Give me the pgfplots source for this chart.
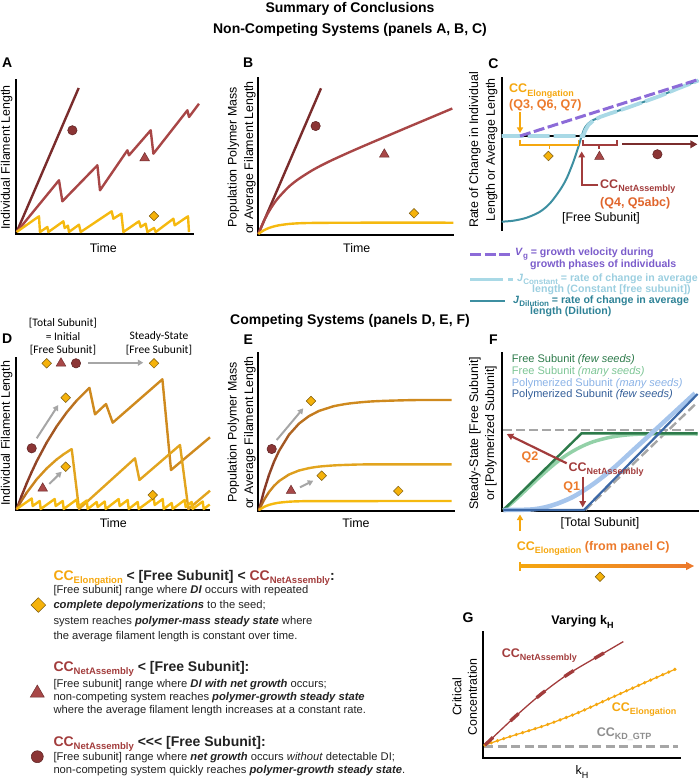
\documentclass[border=0pt]{standalone}
\usepackage{fontspec}
\setmainfont{Liberation Sans}
\newfontfamily\carl{Carlito}
\usepackage{pgfplots}
\pgfplotsset{compat=1.18}
\usetikzlibrary{arrows.meta}
\definecolor{cdark}{HTML}{7A2C2C}
\definecolor{cred}{HTML}{A84646}
\definecolor{cyel}{HTML}{F5B90F}
\definecolor{ccel}{HTML}{F5A70F}
\definecolor{cnet}{HTML}{A23C3C}
\definecolor{qor}{HTML}{EC7A2C}
\definecolor{qred}{HTML}{E0652C}
\definecolor{cpur}{HTML}{8C6BD8}
\definecolor{tpur}{HTML}{7B5CCB}
\definecolor{clb}{HTML}{A9D9E6}
\definecolor{tlb}{HTML}{9CCFE0}
\definecolor{cteal}{HTML}{3D8FA1}
\definecolor{tteal}{HTML}{2F8397}
\definecolor{fdg}{HTML}{2D7A4A}
\definecolor{flg}{HTML}{93D1A8}
\definecolor{tlg}{HTML}{7CC594}
\definecolor{flb}{HTML}{A6C5EC}
\definecolor{tlbl}{HTML}{8AB2E6}
\definecolor{fdb}{HTML}{3C68A6}
\definecolor{tdb}{HTML}{335E99}
\definecolor{cgray}{HTML}{A6A6A6}
\definecolor{circf}{HTML}{8B3535}
\definecolor{circd}{HTML}{5A2020}
\definecolor{trif}{HTML}{A84848}
\definecolor{trid}{HTML}{6E2C2C}
\definecolor{diaf}{HTML}{F5B20A}
\definecolor{diad}{HTML}{7A5A10}
\definecolor{dorange}{HTML}{CF8A1E}
\definecolor{dmid}{HTML}{E2A41E}
\definecolor{txt}{HTML}{222222}
\newcommand\fsz[1]{\fontsize{#1}{#1}\selectfont}
\newcommand\CC[2][9]{CC\raisebox{-0.26em}{\fsz{#1}#2}}
\newcommand\bi[1]{\textbf{\textit{#1}}}
\pgfplotsset{
  panel/.style={scale only axis, axis lines=left, axis line style={line width=2.2pt,-,black,line cap=rect}, ticks=none, clip=false, anchor=south west},
  mc/.style={only marks, mark=*, mark size=4.7pt, mark options={fill=circf, draw=circd, line width=0.5pt}},
  mt/.style={only marks, mark=triangle*, mark size=5.5pt, mark options={fill=trif, draw=trid, line width=0.5pt}},
  md/.style={only marks, mark=square*, mark size=3.4pt, mark options={rotate=45, fill=diaf, draw=diad, line width=0.5pt}},
  dl/.style={line width=2.4pt, line join=round},
  garr/.style={cgray, line width=2pt, -{Triangle[length=5.5pt,width=6pt]}},
  dcmap/.style={colormap={dcm}{rgb255=(125,45,40) rgb255=(205,135,30) rgb255=(228,168,30) rgb255=(245,185,16)}, point meta min=0, point meta max=3},
}
\begin{document}
\begin{tikzpicture}
\useasboundingbox (0pt,0pt) rectangle (700pt,-781pt);

% ---------- panel A ----------
\begin{axis}[panel, at={(16pt,-234.3pt)}, width=177pt, height=154.3pt, xmin=-0.67, xmax=176.3, ymin=-2.3, ymax=152]
\addplot[cdark, dl] coordinates {(0,0) (62,144)};
\addplot[cred, dl] coordinates {(0,0) (42.3,51.7) (45.7,30.7) (80.7,66.7) (83.3,41.7) (110.7,81.7) (112.3,76.7) (134,101.7) (136.7,78.3) (170.7,121.7) (172.3,115) (182.3,128.3)};
\addplot[cyel, dl] coordinates {(0,0) (22.3,15.7) (23.3,0) (30.7,5) (31.7,0) (46.7,10.7) (48,4) (51.3,6.3) (52.3,0) (62.3,7.3) (64,0) (95,20.7) (96.7,13.3) (104.7,18.3) (106.7,0) (122.3,10.7) (124,5) (129,8.3) (130.7,0) (137.3,4) (139,0) (156.7,13.3) (158,6.7) (171.3,15.7) (172.3,0)};
\addplot[mc] coordinates {(55.7,101.7)};
\addplot[mt] coordinates {(128,74)};
\addplot[md] coordinates {(137.3,16)};
\end{axis}

% ---------- panel B ----------
\begin{axis}[panel, at={(257.7pt,-234.7pt)}, width=195.6pt, height=157pt, xmin=-0.63, xmax=195, ymin=-0.7, ymax=156.3]
\addplot[cdark, dl] coordinates {(0,0) (62.7,145.7)};
\addplot[cred, dl, smooth] coordinates {(0,0) (5,11.8) (10,21.5) (15,29.5) (20,36.2) (30,46.8) (40,54.8) (55,64.3) (70,72.1) (90,81.3) (110,90) (130,98.5) (150,107) (170,115.4) (194,125.5)};
\addplot[cyel, dl, smooth] coordinates {(0,0) (5,3.4) (10,5.8) (15,7.4) (20,8.6) (30,10) (40,10.7) (50,11) (70,11.2) (100,11.3) (195,11.3)};
\addplot[mc] coordinates {(57.3,108)};
\addplot[mt] coordinates {(126,79.7)};
\addplot[md] coordinates {(155.7,20.7)};
\end{axis}

% ---------- panel C ----------
\begin{axis}[panel, axis y line=left, axis x line=none, y axis line style={-}, every outer y axis line/.append style={-}, at={(501.7pt,-230pt)}, width=196.7pt, height=152.3pt, xmin=0, xmax=196.7, ymin=-94, ymax=58.3]
\draw[black, line width=2.2pt] (0,0) -- (196.7,0);
\addplot[cteal, line width=2pt, smooth] coordinates {(0,-85.7) (11.7,-84.7) (25,-81.7) (38.3,-75.7) (48.3,-67.3) (58.3,-54) (65,-42.3) (71.7,-25.7) (76.7,-10.7) (80,0) (83.3,8.5) (88.3,14) (95,17.5) (108.3,22.5) (125,28) (141.7,34) (158.3,40) (175,47) (196.7,55.5)};
\addplot[clb, line width=3.8pt, dash pattern=on 22pt off 4pt] coordinates {(0,0) (81.7,0) (83.3,5) (86.7,11) (91.7,15.5) (98.3,19) (108.3,22.5) (125,28) (141.7,34) (158.3,40) (175,47) (196.7,55.5)};
\addplot[cpur, line width=3pt, dash pattern=on 11pt off 3.5pt] coordinates {(18.3,0) (196.7,56.5)};
\draw[ccel, line width=1.8pt] (18.3,-4.5) -- (18.3,-9) -- (76.7,-9) -- (76.7,-4.5);
\draw[ccel, line width=1.8pt] (47.7,-9) -- (47.7,-13);
\draw[cnet, line width=1.8pt] (81,-4.5) -- (81,-9) -- (115,-9) -- (115,-4.5);
\draw[cnet, line width=1.8pt] (97.5,-9) -- (97.5,-13);
\addplot[cdark, line width=2.4pt, -{Triangle[length=7pt,width=7.5pt]}] coordinates {(120.7,-8.3) (195.7,-8.3)};
\addplot[ccel, line width=2pt, -{Triangle[length=5.5pt,width=6pt]}] coordinates {(18.3,23.7) (18.3,3)};
\addplot[cnet, line width=2pt, -{Triangle[length=6pt,width=6.5pt]}] coordinates {(96.7,-49) (80,-49) (80,-15.5)};
\addplot[md] coordinates {(46.7,-20)};
\addplot[mt] coordinates {(97.7,-20.7)};
\addplot[mc] coordinates {(155.7,-18.3)};
\end{axis}

% ---------- panel D ----------
\begin{axis}[panel, dcmap, at={(15.7pt,-510pt)}, width=193.6pt, height=151.7pt, xmin=-1, xmax=192.6, ymin=-1, ymax=150.7]
\addplot[mesh, point meta=explicit, line width=2.4pt, line cap=round] coordinates {(0,0) [0] (5,13.3) [0.07] (10,25.7) [0.14] (15,37.1) [0.2] (20,47.7) [0.27] (30,66.5) [0.41] (40,82.7) [0.55] (50,96.6) [0.69] (60,108.5) [0.83] (72.7,121.2) [1]};
\addplot[dorange, dl] coordinates {(72.7,121.2) (78.3,94.7) (89.3,105) (96,86.3) (145.7,129.7) (154.3,39) (193.3,71.7)};
\addplot[mesh, point meta=explicit, line width=2.4pt, line cap=round] coordinates {(0,0) [0.5] (5,8.6) [0.65] (10,16.3) [0.8] (20,29.7) [1.1] (30,40.6) [1.4] (40,49.6) [1.65] (47,54.8) [1.85] (55,60) [2]};
\addplot[dmid, dl] coordinates {(55,60) (62.3,0) (118.3,50.7) (122.7,29) (163.3,64) (171.7,0) (193.3,18.3)};
\addplot[cyel, dl] coordinates {(0,0) (15,10.5) (16,3) (23,8) (24,0) (38,10) (39,3) (46,8) (47,0) (60,9.5) (61,2) (70,8.5) (71,0) (80,7) (81,2) (88,7.5) (89,0) (102,10) (103,3) (111,9) (112,0) (121,7) (122,0) (137,11) (138,4) (146,10) (147,0) (155,6) (156,0) (168,9) (169,2) (175,7) (176,0) (186,7.5) (187,0) (193,4.5)};
\addplot[garr] coordinates {(20,70.7) (41.6,104)};
\addplot[garr] coordinates {(32.6,25) (45,37.3)};
\addplot[garr] coordinates {(71.6,146.3) (126.6,146.3)};
\addplot[mc] coordinates {(15,60.7) (59.3,145.7)};
\addplot[mt] coordinates {(26,20.7) (44.3,145.7)};
\addplot[md] coordinates {(49,111.3) (49,42.3) (136,14) (30,145.7) (137.3,145.7)};
\end{axis}

% ---------- panel E ----------
\begin{axis}[panel, dcmap, at={(258.3pt,-511pt)}, width=196pt, height=158.3pt, xmin=-0.7, xmax=195.3, ymin=-1, ymax=157.3]
\addplot[mesh, point meta=explicit, line width=2.4pt, line cap=round] coordinates {(0,0) [0] (5,19.2) [0.1] (10,35.1) [0.2] (15,48.2) [0.3] (20,59) [0.4] (30,75.3) [0.55] (40,86.4) [0.7] (50,93.9) [0.82] (60,99.1) [0.92] (75,103.9) [1]};
\addplot[dorange, dl, smooth] coordinates {(75,103.9) (90,106.5) (110,108.4) (130,109.3) (160,110) (192.7,110)};
\addplot[mesh, point meta=explicit, line width=2.4pt, line cap=round] coordinates {(0,0) [0.5] (5,10.1) [0.7] (10,18) [0.9] (15,24.1) [1.1] (20,28.9) [1.3] (30,35.5) [1.6] (40,39.5) [1.8] (50,41.9) [2]};
\addplot[dmid, dl, smooth] coordinates {(50,41.9) (60,43.4) (75,44.6) (90,45.2) (110,45.6) (192.7,45.7)};
\addplot[cyel, dl, smooth] coordinates {(0,0) (5,3.1) (10,5.1) (15,6.4) (20,7.3) (30,8.3) (40,8.7) (60,8.9) (192.7,9)};
\addplot[garr] coordinates {(17.7,70) (44.3,101.7)};
\addplot[garr] coordinates {(41,22.7) (54.3,29.3)};
\addplot[mc] coordinates {(12.7,61)};
\addplot[mt] coordinates {(32,19.3)};
\addplot[md] coordinates {(52,109) (62.7,34.3) (139.3,19)};
\end{axis}

% ---------- panel F ----------
\begin{axis}[panel, at={(502.3pt,-511pt)}, width=195.4pt, height=158.3pt, xmin=-1, xmax=194.4, ymin=-1, ymax=157.3]
\addplot[cgray, line width=2.4pt, dash pattern=on 9pt off 4pt] coordinates {(0,80) (194.3,80)};
\addplot[cgray, line width=2.4pt, dash pattern=on 9pt off 4pt] coordinates {(82,0) (194.3,108)};
\addplot[flg, line width=3.5pt, smooth] coordinates {(0,0) (10,8.3) (23.3,20.7) (36.7,33.3) (50,45) (63.3,55) (76.7,62.7) (90,68.3) (106.7,72.7) (123.3,75) (143.3,76) (194.3,76)};
\addplot[fdg, line width=2.4pt] coordinates {(0,0) (78.3,76.7) (194.3,76.7)};
\addplot[flb, line width=4.5pt, smooth] coordinates {(0,0) (30,0.7) (50,5) (70,13.3) (90,26) (110,41.7) (130,60) (150,78.3) (170,96.7) (191.7,116.7)};
\addplot[fdb, line width=2.2pt] coordinates {(0,0) (80.7,0) (194.3,116)};
\addplot[cnet, line width=2.2pt, -{Triangle[length=6.5pt,width=6.5pt]}] coordinates {(63.4,46.7) (3.4,76)};
\addplot[cnet, line width=2.2pt, -{Triangle[length=6.5pt,width=6.5pt]}] coordinates {(79.4,33.3) (79.4,2.5)};
\end{axis}

% ---------- panel G ----------
\begin{axis}[panel, at={(483.3pt,-758.3pt)}, width=196.7pt, height=126.6pt, xmin=-0.7, xmax=196, ymin=-1, ymax=125.6]
\addplot[cgray, line width=2.4pt, dash pattern=on 9pt off 4.5pt] coordinates {(0,10.7) (194.3,10.7)};
\addplot[ccel, line width=1.2pt, smooth] coordinates {(1,12.3) (26,20.7) (59.3,31.3) (92.7,44) (126,59) (159.3,74) (191,88)};
\addplot[ccel, line width=3.6pt, line cap=round, dash pattern=on 0pt off 6.6pt, smooth] coordinates {(1,12.3) (26,20.7) (59.3,31.3) (92.7,44) (126,59) (159.3,74) (191,88)};
\addplot[cnet, line width=1.3pt, smooth] coordinates {(1,12.3) (29.3,39) (56,62.3) (84.3,83.3) (119.3,104) (139.3,115.7)};
\addplot[cnet, line width=3.4pt, dash pattern=on 11pt off 24pt, smooth] coordinates {(1,12.3) (29.3,39) (56,62.3) (84.3,83.3) (119.3,104) (139.3,115.7)};
\end{axis}

% ---------- overlay axis for symbols outside the panels ----------
\begin{axis}[at={(0pt,-781pt)}, anchor=south west, scale only axis, width=700pt, height=781pt, xmin=0, xmax=700, ymin=0, ymax=781, y dir=reverse, hide axis, clip=false]
\addplot[only marks, mark=square*, mark size=5.2pt, mark options={rotate=45, fill=diaf, draw=diad, line width=0.5pt}] coordinates {(38.3,605)};
\addplot[only marks, mark=triangle*, mark size=8pt, mark options={fill=trif, draw=trid, line width=0.5pt}] coordinates {(37.3,693)};
\addplot[only marks, mark=*, mark size=6pt, mark options={fill=circf, draw=circd, line width=0.5pt}] coordinates {(37.3,756.7)};
\addplot[md] coordinates {(600,576.7)};
\end{axis}

\begin{scope}[x=1pt,y=-1pt]
% ---------- titles ----------
\node[font=\bfseries\fsz{14}] at (350,9) {Summary of Conclusions};
\node[font=\bfseries\fsz{14}] at (350,29.5) {Non-Competing Systems (panels A, B, C)};
\node[font=\bfseries\fsz{14}] at (350,321) {Competing Systems (panels D, E, F)};
\foreach \l/\x/\y in {A/7.3/62.3,B/248.3/62.3,C/493.3/63.3,D/7.3/339,E/248.3/340,F/493.3/340,G/468/618}
  \node[font=\bfseries\fsz{14}] at (\x,\y) {\l};

\node[font=\fsz{12.4}] at (103.3,248.3) {Time};
\node[font=\fsz{12.4}, rotate=90] at (6.7,157.5) {Individual Filament Length};
\node[font=\fsz{12.4}] at (356.7,248.3) {Time};
\node[font=\fsz{12.4}, rotate=90] at (233.3,157.5) {Population Polymer Mass};
\node[font=\fsz{12.4}, rotate=90] at (250,157.5) {or Average Filament Length};

\node[anchor=base west, inner sep=0, font=\bfseries\fsz{12.5}, text=ccel] at (509,93) {\CC{Elongation}};
\node[anchor=base west, inner sep=0, font=\bfseries\fsz{12.5}, text=qor] at (509,108.5) {(Q3, Q6, Q7)};
\node[anchor=base west, inner sep=0, font=\bfseries\fsz{12.5}, text=cnet] at (600,188.3) {\CC{NetAssembly}};
\node[anchor=base west, inner sep=0, font=\bfseries\fsz{12.5}, text=qred] at (600,206) {(Q4, Q5abc)};
\node[font=\fsz{12.4}] at (601,218.3) {[Free Subunit]};
\node[font=\fsz{12.4}, rotate=90] at (475,150) {Rate of Change in Individual};
\node[font=\fsz{12.4}, rotate=90] at (491.7,150) {Length or Average Length};

\draw[cpur, line width=3pt, dash pattern=on 11pt off 3.5pt] (470,254) -- (510,254);
\draw[clb, line width=3pt] (470,279) -- (503,279) (508,279) -- (513,279);
\draw[cteal, line width=2pt] (470,301) -- (505,301);
\node[anchor=west, inner sep=0, font=\bfseries\fsz{10.6}, text=tpur] at (515,254) {\textit{V}\raisebox{-0.25em}{\fsz{8}g} = growth velocity during};
\node[anchor=west, inner sep=0, font=\bfseries\fsz{10.6}, text=tpur] at (530,265) {growth phases of individuals};
\node[anchor=west, inner sep=0, font=\bfseries\fsz{10.6}, text=tlb] at (517,279) {\textit{J}\raisebox{-0.25em}{\fsz{8}Constant} = rate of change in average};
\node[anchor=west, inner sep=0, font=\bfseries\fsz{10.6}, text=tlb] at (532,290) {length (Constant [free subunit])};
\node[anchor=west, inner sep=0, font=\bfseries\fsz{10.6}, text=tteal] at (513,301) {\textit{J}\raisebox{-0.25em}{\fsz{8}Dilution} = rate of change in average};
\node[anchor=west, inner sep=0, font=\bfseries\fsz{10.6}, text=tteal] at (530,312) {length (Dilution)};

\node[font=\fsz{12.4}] at (113.3,523.3) {Time};
\node[font=\fsz{12.4}, rotate=90] at (6.7,433.3) {Individual Filament Length};
\node[font=\carl\fsz{11.5}] at (63,323) {[Total Subunit]};
\node[font=\carl\fsz{11.5}] at (63,336.5) {= Initial};
\node[font=\carl\fsz{11.5}] at (63,350.5) {[Free Subunit]};
\node[font=\carl\fsz{11.5}] at (159,336.5) {Steady-State};
\node[font=\carl\fsz{11.5}] at (159,350.5) {[Free Subunit]};

\node[font=\fsz{12.4}] at (356,523.3) {Time};
\node[font=\fsz{12.4}, rotate=90] at (233.3,432.5) {Population Polymer Mass};
\node[font=\fsz{12.4}, rotate=90] at (250,432.5) {or Average Filament Length};

\node[font=\fsz{12.4}] at (600,523.3) {[Total Subunit]};
\node[font=\fsz{12.4}, rotate=90] at (475,433.3) {Steady-State [Free Subunit]};
\node[font=\fsz{12.4}, rotate=90] at (491,433.3) {or [Polymerized Subunit]};
\node[anchor=base west, inner sep=0, font=\fsz{11}, text=fdg] at (511.7,362.8) {Free Subunit \textit{(few seeds)}};
\node[anchor=base west, inner sep=0, font=\fsz{11}, text=tlg] at (511.7,374.2) {Free Subunit \textit{(many seeds)}};
\node[anchor=base west, inner sep=0, font=\fsz{11}, text=tlbl] at (511.7,386.2) {Polymerized Subunit \textit{(many seeds)}};
\node[anchor=base west, inner sep=0, font=\fsz{11}, text=tdb] at (511.7,397.5) {Polymerized Subunit \textit{(few seeds)}};
\node[font=\bfseries\fsz{12.5}, text=qor] at (530,457) {Q2};
\node[font=\bfseries\fsz{12.5}, text=qor] at (571.7,487) {Q1};
\node[anchor=base west, inner sep=0, font=\bfseries\fsz{12.5}, text=cnet] at (568.3,471.7) {\CC{NetAssembly}};
\draw[ccel, line width=2pt, -{Triangle[length=5.5pt,width=6pt]}] (520,531) -- (520,514.5);
\node[anchor=base west, inner sep=0, font=\bfseries\fsz{12.5}] at (516.7,550.7) {\textcolor{ccel}{\CC{Elongation}} \textcolor{qor}{(from panel C)}};
\shade[left color=ccel, right color=qor] (520,564.9) rectangle (687,567.1);
\fill[qor] (686,561.8) -- (694,566) -- (686,570.2) -- cycle;
\draw[ccel, line width=2pt] (520,561.5) -- (520,570.5);

\node[font=\bfseries\fsz{12.5}] at (582.5,622) {Varying k\raisebox{-0.26em}{\fsz{9}H}};
\node[anchor=base west, inner sep=0, font=\bfseries\fsz{12.5}, text=cnet] at (501.7,657.3) {\CC{NetAssembly}};
\node[anchor=base west, inner sep=0, font=\bfseries\fsz{12.5}, text=ccel] at (611.7,711.7) {\CC{Elongation}};
\node[anchor=base west, inner sep=0, font=\bfseries\fsz{12.5}, text=cgray!85!black] at (596.7,736.7) {\CC{KD\_GTP}};
\node[font=\fsz{12.4}] at (582,772) {k\raisebox{-0.26em}{\fsz{9}H}};
\node[font=\fsz{12.4}, rotate=90] at (457,697) {Critical};
\node[font=\fsz{12.4}, rotate=90] at (472.5,697) {Concentration};

\begin{scope}[every node/.style={anchor=base west, inner sep=0, text=txt}]
\node[font=\bfseries\fsz{14}] at (53.3,580) {\textcolor{ccel}{\CC[9.5]{Elongation}} < [Free Subunit] < \textcolor{cnet}{\CC[9.5]{NetAssembly}}:};
\node[font=\fsz{11.2}] at (53.3,593) {[Free subunit] range where \bi{DI} occurs with repeated};
\node[font=\fsz{11.2}] at (53.3,608.5) {\bi{complete depolymerizations} to the seed;};
\node[font=\fsz{11.2}] at (53.3,624) {system reaches \bi{polymer-mass steady state} where};
\node[font=\fsz{11.2}] at (53.3,639.5) {the average filament length is constant over time.};
\node[font=\bfseries\fsz{14}] at (53.3,671) {\textcolor{cnet}{\CC[9.5]{NetAssembly}} < [Free Subunit]:};
\node[font=\fsz{11.2}] at (53.3,687) {[Free subunit] range where \bi{DI with net growth} occurs;};
\node[font=\fsz{11.2}] at (53.3,700) {non-competing system reaches \bi{polymer-growth steady state}};
\node[font=\fsz{11.2}] at (53.3,713.5) {where the average filament length increases at a constant rate.};
\node[font=\bfseries\fsz{14}] at (53.3,746) {\textcolor{cnet}{\CC[9.5]{NetAssembly}} <\kern0pt<\kern0pt< [Free Subunit]:};
\node[font=\fsz{11.2}] at (53.3,760) {[Free subunit] range where \bi{net growth} occurs \textit{without} detectable DI;};
\node[font=\fsz{11.2}] at (53.3,773.5) {non-competing system quickly reaches \bi{polymer-growth steady state}.};
\end{scope}
\end{scope}
\end{tikzpicture}
\end{document}
